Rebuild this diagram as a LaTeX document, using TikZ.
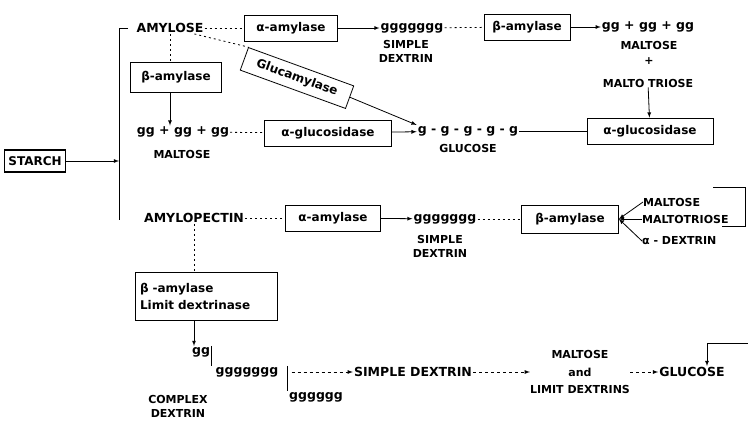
\documentclass[tikz,border=0pt]{standalone}
\usepackage{fontspec}
\setmainfont{DejaVu Sans}

\begin{document}
\begin{tikzpicture}[x=1pt, y=-1pt,
    enzyme/.style={draw, thick, inner xsep=4pt, minimum height=26pt, font=\bfseries\fontsize{12}{15}\selectfont},
    chem/.style={inner sep=1pt, font=\bfseries\fontsize{12.5}{15}\selectfont},
    sub/.style={inner sep=0pt, align=center, font=\bfseries\fontsize{11}{14}\selectfont},
    dotline/.style={thick, dash pattern=on 2pt off 3pt},
    arr/.style={thick, -latex}]
    \useasboundingbox (0,0) rectangle (748,426);

    % starch and the split
    \node[enzyme, line width=1.3pt, minimum width=60pt, minimum height=22pt] (starch) at (35,161) {STARCH};
    \coordinate (top) at (128,28);
    \coordinate (bot) at (119,220);
    \draw[thick] (top) -| (bot);
    \draw[arr] (starch) -- (starch -| bot);

    % amylose
    \node[chem] (amylose) at (170,28) {AMYLOSE};
    \node[enzyme, minimum width=93pt] (aamy1) at (291,28) {α-amylase};
    \node[chem] (sd1) at (412,28) {ggggggg};
    \node[sub] (sd1lbl) at (406,51) {SIMPLE\\DEXTRIN};
    \node[enzyme, minimum width=86pt] (bamy1) at (527,27) {β-amylase};
    \node[chem] (mal1) at (648,27) {gg + gg + gg};
    \node[sub] (mal1lbl) at (649,45) {MALTOSE};
    \node[sub] (plus) at (649,61) {+};
    \node[sub] (mt) at (648,83) {MALTO TRIOSE};
    \node[enzyme, minimum width=126pt] (agluc2) at (650,131) {α-glucosidase};
    \node[chem] (glc) at (468,131) {g - g - g - g - g};
    \node[sub] (glclbl) at (468,148) {GLUCOSE};

    \draw[dotline] (amylose) -- (aamy1);
    \draw[arr] (aamy1) -- (sd1);
    \draw[dotline] (sd1) -- (bamy1);
    \draw[arr] (bamy1) -- (mal1);
    \draw[arr] (mt) -- (agluc2);
    \draw[thick] (agluc2) -- (glc);

    \node[enzyme, minimum width=91pt, minimum height=30pt] (bamy2) at (176,77) {β-amylase};
    \node[chem] (mal2) at (183,132) {gg + gg + gg};
    \node[sub] (mal2lbl) at (182,154) {MALTOSE};
    \node[enzyme, minimum width=127pt] (agluc1) at (328,133) {α-glucosidase};
    \node[enzyme, rotate=-20, minimum width=112pt, minimum height=24pt] (gamy) at (297,78) {Glucamylase};

    \draw[dotline] (amylose.south) -- (amylose.south |- bamy2.north);
    \draw[arr] (amylose.south |- bamy2.south) -- (amylose.south |- mal2.north);
    \draw[dotline] (mal2) -- (agluc1);
    \draw[arr] (agluc1) -- (glc);
    \draw[dotline] (amylose) -- (gamy.north west);
    \draw[arr] (gamy.east) -- (glc.north west);

    % amylopectin
    \node[chem] (amylopectin) at (194,218) {AMYLOPECTIN};
    \node[enzyme, minimum width=95pt] (aamy2) at (333,218) {α-amylase};
    \node[chem] (sd2) at (445,219) {ggggggg};
    \node[sub] (sd2lbl) at (440,246) {SIMPLE\\DEXTRIN};
    \node[enzyme, minimum width=97pt, minimum height=28pt] (bamy3) at (570,219) {β-amylase};
    \node[sub, anchor=west] (m3) at (643,202) {MALTOSE};
    \node[sub, anchor=west] (mt3) at (642,219) {MALTOTRIOSE};
    \node[sub, anchor=west] (ad3) at (642,241) {α - DEXTRIN};
    \coordinate (loopa) at (713,187);
    \coordinate (loopb) at (722,226);

    \draw[dotline] (amylopectin) -- (aamy2);
    \draw[arr] (aamy2) -- (sd2);
    \draw[dotline] (sd2) -- (bamy3);
    \draw[arr] (m3.west) -- (bamy3.east);
    \draw[arr] (mt3.west) -- (bamy3.east);
    \draw[arr] (ad3.west) -- (bamy3.east);
    \draw[thick] (loopa) -- ++(32,0) |- (loopb);

    \node[enzyme, align=left, text width=132pt, inner xsep=5pt, minimum height=48pt] (limit) at (206,296) {β -amylase\\[2pt]Limit dextrinase};
    \node[chem] (g2) at (201,352) {gg};
    \node[chem] (g7) at (247,372) {ggggggg};
    \node[chem] (g6) at (316,397) {gggggg};
    \node[sub] (cd) at (178,406) {COMPLEX\\DEXTRIN};
    \node[chem] (sd3) at (413,372) {SIMPLE DEXTRIN};
    \node[sub, font=\bfseries\fontsize{11}{17.5}\selectfont] (mld) at (580,372) {MALTOSE\\and\\LIMIT DEXTRINS};
    \node[chem] (glc3) at (692,372) {GLUCOSE};
    \coordinate (feed) at (748,343);

    \draw[dotline] (amylopectin.south) -- (amylopectin.south |- limit.north);
    \draw[arr] (amylopectin.south |- limit.south) -- (amylopectin.south |- g2.north);
    \draw[thick] (g2.north east) -- (g2.north east |- g7.north);
    \draw[thick] ([xshift=8pt]g7.north east) -- ([xshift=8pt]g7.north east |- g6.north);
    \draw[arr, dashed] ([xshift=12pt]g7.east) -- (sd3);
    \draw[arr, dashed] (sd3) -- (mld);
    \draw[arr, dashed] (mld) -- (glc3);
    \draw[arr] (feed) -| ([xshift=15pt]glc3.north);
\end{tikzpicture}
\end{document}
